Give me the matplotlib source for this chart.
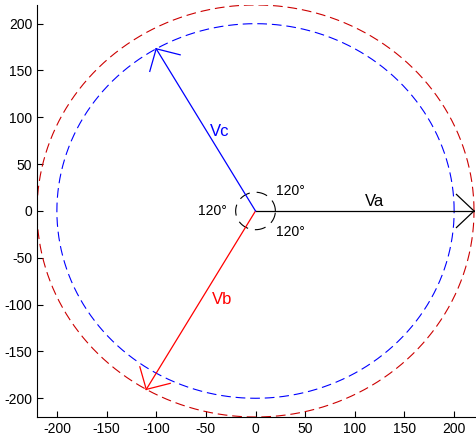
import numpy as np
import matplotlib

matplotlib.use("Agg")
import matplotlib.pyplot as plt

plt.rcParams["font.family"] = ["Liberation Sans", "DejaVu Sans"]
plt.rcParams["lines.scale_dashes"] = False
plt.rcParams["axes.unicode_minus"] = False

# phasor data
names = ["Va", "Vb", "Vc"]
magnitudes = [220, 220, 200]
angles_deg = [0, -120, 120]
colors = ["black", "red", "blue"]

# reference circles (radius, colour)
circle_radii = [220, 200]
circle_colors = ["#cc0000", "#0000ff"]

angle_label = "120\u00b0"
ticks = [-200, -150, -100, -50, 0, 50, 100, 150, 200]

fig = plt.figure(figsize=(4.77, 4.45), dpi=100)
ax = fig.add_axes([0.0776, 0.0629, 0.9182, 0.926])

theta = np.linspace(0, 2 * np.pi, 721)
for r, c in zip(circle_radii, circle_colors):
    ax.plot(r * np.cos(theta), r * np.sin(theta), color=c, lw=0.8, dashes=(7, 3.5))

# small angle marker circle at origin
ax.plot(20 * np.cos(theta), 20 * np.sin(theta), color="black", lw=0.8, dashes=(8, 5))

head_len = 25
head_ang = np.deg2rad(45)
for name, mag, ang, c in zip(names, magnitudes, angles_deg, colors):
    a = np.deg2rad(ang)
    tx, ty = mag * np.cos(a), mag * np.sin(a)
    ax.plot([0, tx], [0, ty], color=c, lw=0.9)
    back = a + np.pi
    for s in (-1, 1):
        bx = tx + head_len * np.cos(back + s * head_ang)
        by = ty + head_len * np.sin(back + s * head_ang)
        ax.plot([tx, bx], [ty, by], color=c, lw=0.9)

label_pos = {"Va": (120, 10), "Vb": (-34, -95), "Vc": (-36, 85)}
for name, c in zip(names, colors):
    x, y = label_pos[name]
    ax.text(x, y, name, color=c, fontsize=12, ha="center", va="center")

ax.text(35, 21, angle_label, fontsize=10, ha="center", va="center")
ax.text(-43, 0, angle_label, fontsize=10, ha="center", va="center")
ax.text(35, -22, angle_label, fontsize=10, ha="center", va="center")

ax.set_xlim(-220, 221)
ax.set_ylim(-220, 220)
ax.set_xticks(ticks)
ax.set_yticks(ticks)
ax.tick_params(direction="in", length=4, labelsize=10, width=0.8)
ax.spines["top"].set_visible(False)
ax.spines["right"].set_visible(False)

fig.savefig("out.png", dpi=100)
